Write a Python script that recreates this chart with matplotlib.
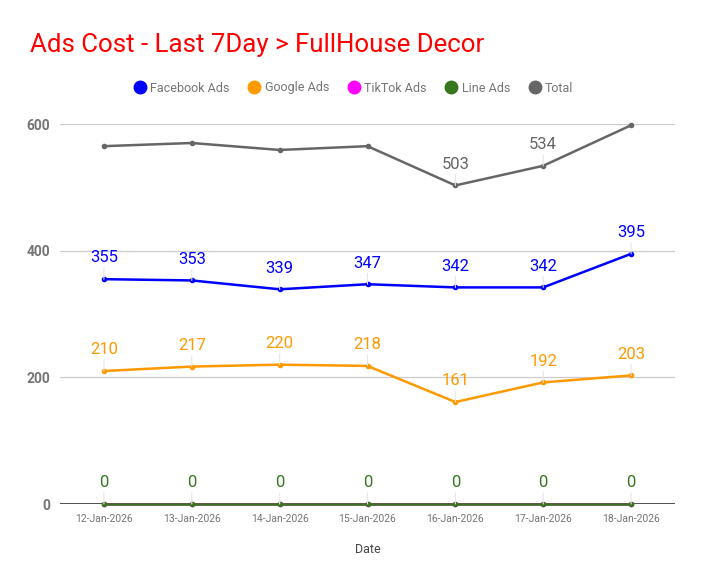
import numpy as np
import matplotlib
matplotlib.use("Agg")
import matplotlib.pyplot as plt
from matplotlib.lines import Line2D

plt.rcParams['font.family'] = ['Roboto', 'DejaVu Sans']

dates = ["12-Jan-2026", "13-Jan-2026", "14-Jan-2026", "15-Jan-2026",
         "16-Jan-2026", "17-Jan-2026", "18-Jan-2026"]
facebook = [355, 353, 339, 347, 342, 342, 395]
google = [210, 217, 220, 218, 161, 192, 203]
tiktok = [0, 0, 0, 0, 0, 0, 0]
line_ads = [0, 0, 0, 0, 0, 0, 0]
total = [565, 570, 559, 565, 503, 534, 598]
y_ticks = [0, 200, 400, 600]

# series: name, values, colour, which points get a label
series = [
    ("Facebook Ads", facebook, "#0000ff", range(7)),
    ("Google Ads", google, "#ff9900", range(7)),
    ("TikTok Ads", tiktok, "#ff00ff", []),
    ("Line Ads", line_ads, "#38761d", range(7)),
    ("Total", total, "#666666", [4, 5]),
]

fig = plt.figure(figsize=(7.04, 5.85), dpi=100)
ax = fig.add_axes([60/704, 1-504/585, 615/704, 380/585])

x = np.arange(len(dates))
for name, vals, col, lab_idx in series:
    ax.plot(x, vals, color=col, lw=1.8, marker="o", ms=3, zorder=3, clip_on=False)
    for i in lab_idx:
        ax.annotate(str(vals[i]), (x[i], vals[i]), xytext=(0, 12), textcoords="offset points",
                    ha="center", va="baseline", fontsize=12, color=col, zorder=4,
                    arrowprops=dict(arrowstyle="-", color="#e6e6e6", lw=0.8,
                                    shrinkA=0, shrinkB=0))

ax.set_xlim(-0.5, 6.5)
ax.set_ylim(0, 600)
ax.set_yticks(y_ticks)
ax.set_yticklabels([str(v) for v in y_ticks], fontsize=10, color="#757575", fontweight="bold")
ax.set_xticks(x)
ax.set_xticklabels(dates, fontsize=7.5, color="#757575")
ax.tick_params(length=0, pad=7)
for s in ax.spines.values():
    s.set_visible(False)
ax.grid(axis="y", color="#cccccc", lw=0.9, zorder=0)
ax.set_axisbelow(True)
ax.axhline(0, color="#333333", lw=1.2, zorder=2)
ax.set_xlabel("Date", fontsize=9, color="#444444", labelpad=14)

fig.text(30/704, 1-45/585, "Ads Cost - Last 7Day > FullHouse Decor", fontsize=18.6,
         color="#ff0000", va="center", ha="left")

handles = [Line2D([], [], ls="none", marker="o", ms=9, color=c) for _, _, c, _ in series]
fig.legend(handles, [s[0] for s in series], loc="center", bbox_to_anchor=(352/704, 1-88/585),
           ncol=5, frameon=False, fontsize=9, labelcolor="#757575", handletextpad=0.1,
           columnspacing=1.2, handlelength=1.5)

fig.savefig("out.png", dpi=100)
